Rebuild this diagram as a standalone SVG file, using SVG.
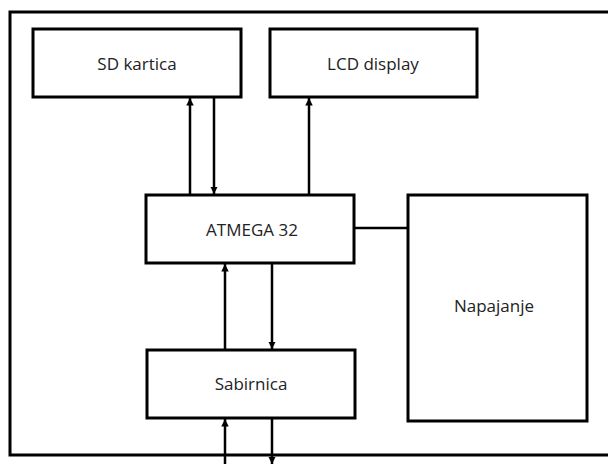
<svg xmlns="http://www.w3.org/2000/svg" width="608" height="464" viewBox="0 0 608 464">
<defs>
<marker id="ah" viewBox="0 0 10 10" refX="10" refY="5" markerWidth="3" markerHeight="3.4" orient="auto" markerUnits="strokeWidth">
<path d="M0,0 L10,5 L0,10 z" fill="#000"/>
</marker>
<style>
.box{fill:#fff;stroke:#000;stroke-width:3}
.lbl{font-family:"Open Sans","Liberation Sans",sans-serif;font-size:17px;fill:#222;text-anchor:middle;dominant-baseline:central}
.c{stroke:#000;stroke-width:2.5;fill:none}
.a{stroke:#000;stroke-width:2.5;fill:none;marker-end:url(#ah)}
</style>
</defs>
<rect width="608" height="464" fill="#fff"/>
<path d="M610,12 H10 V455 H610" fill="none" stroke="#000" stroke-width="3"/>
<g id="sd"><rect class="box" x="33" y="29" width="208" height="68"/><text class="lbl" x="137" y="63">SD kartica</text></g>
<g id="lcd"><rect class="box" x="270" y="29" width="207" height="68"/><text class="lbl" x="373" y="63">LCD display</text></g>
<g id="atmega"><rect class="box" x="146" y="195" width="208" height="68"/><text class="lbl" x="252" y="229">ATMEGA 32</text></g>
<g id="napajanje"><rect class="box" x="408" y="195" width="179" height="226"/><text class="lbl" x="494" y="305">Napajanje</text></g>
<g id="sabirnica"><rect class="box" x="147" y="350" width="208" height="68"/><text class="lbl" x="251" y="383">Sabirnica</text></g>
<g id="connectors">
<line class="a" x1="190" y1="195" x2="190" y2="98"/>
<line class="a" x1="214" y1="97" x2="214" y2="194"/>
<line class="a" x1="309" y1="195" x2="309" y2="98"/>
<line class="c" x1="354" y1="228" x2="408" y2="228"/>
<line class="a" x1="225" y1="350" x2="225" y2="264"/>
<line class="a" x1="272" y1="263" x2="272" y2="349"/>
<line class="a" x1="225" y1="466" x2="225" y2="419"/>
<line class="a" x1="272" y1="418" x2="272" y2="464"/>
</g>
</svg>
